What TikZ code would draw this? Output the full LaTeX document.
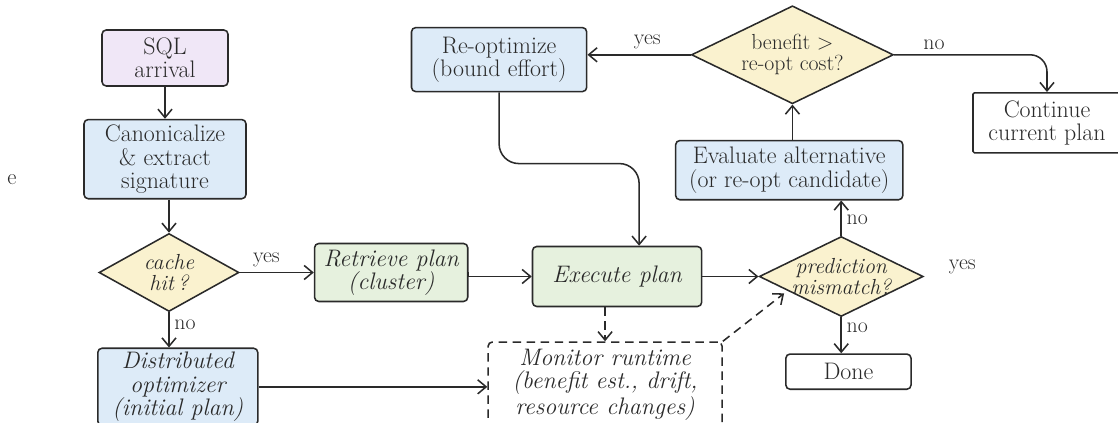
\documentclass[tikz,border=0pt]{standalone}
\usetikzlibrary{arrows.meta, positioning, shapes.geometric, calc}
\definecolor{flowink}{HTML}{2A2A2A}
\definecolor{flowlilac}{HTML}{F0E7F7}
\definecolor{flowblue}{HTML}{DDEBF8}
\definecolor{flowgreen}{HTML}{E6F1DE}
\definecolor{flowsand}{HTML}{FAF2CF}

\begin{document}
\begin{tikzpicture}[
    font=\fontsize{17}{16.5}\selectfont,
    ital/.style={font=\fontsize{17}{16.5}\selectfont\itshape},
    dtext/.style={font=\fontsize{15.5}{15}\selectfont, text=flowink, align=center},
    box/.style={draw=flowink, line width=1.1pt, rounded corners=3pt,
                align=center, inner sep=2pt, text=flowink},
    decision/.style={draw=flowink, line width=1.1pt, diamond, fill=flowsand,
                     inner sep=0pt},
    arr/.style={-{Straight Barb[length=6pt, width=10pt]}, flowink, line width=1.1pt},
    darr/.style={arr, dash pattern=on 6pt off 4pt},
    lbl/.style={font=\fontsize{15.5}{16}\selectfont, text=flowink},
  ]
    \useasboundingbox (0,0) rectangle (27.95,-10.575);

    \node[box, fill=flowlilac, minimum width=3.15cm, minimum height=1.4cm]
      (sql) at (4.125,-1.45) {SQL\\arrival};
    \node[box, fill=flowblue, minimum width=4.05cm, minimum height=1.98cm,
      below=0.8cm of sql] (canon) {Canonicalize\\\&\ extract\\signature};
    \node[decision, minimum width=3.5cm, minimum height=1.95cm,
      below=0.83cm of canon, xshift=0.1cm,
      label={[dtext, font=\fontsize{15.5}{15}\selectfont\itshape]center:cache\\hit\,?}] (cache) {};
    \node[box, ital, fill=flowblue, minimum width=4.0cm, minimum height=1.93cm,
      below=0.88cm of cache, xshift=0.22cm] (dist) {Distributed\\optimizer\\(initial plan)};
    \node[box, ital, fill=flowgreen, minimum width=3.83cm, minimum height=1.45cm,
      right=1.85cm of cache] (retr) {Retrieve plan\\(cluster)};
    \node[box, ital, fill=flowgreen, minimum width=4.23cm, minimum height=1.5cm,
      right=1.58cm of retr, yshift=-0.1cm] (exec) {Execute plan};
    \node[box, ital, dashed, dash pattern=on 6pt off 4pt, fill=white,
      minimum width=5.85cm, minimum height=2.13cm,
      below=0.85cm of exec, xshift=-0.3cm] (mon) {Monitor runtime\\(benefit est., drift,\\resource changes)};
    \node[decision, minimum width=4.1cm, minimum height=2.0cm,
      right=1.4cm of exec,
      label={[dtext, font=\fontsize{15.5}{15}\selectfont\itshape]center:prediction\\mismatch?}] (pred) {};
    \node[box, fill=white, minimum width=3.13cm, minimum height=0.88cm,
      below=0.9cm of pred, xshift=0.18cm] (done) {Done};
    \node[box, fill=flowblue, minimum width=5.68cm, minimum height=1.48cm,
      above=0.88cm of pred, xshift=-1.3cm] (eval) {Evaluate alternative\\(or re-opt candidate)};
    \node[decision, minimum width=5.05cm, minimum height=2.45cm,
      above=0.88cm of eval, xshift=0.08cm,
      label={[dtext]center:benefit >\\re-opt cost?}] (benefit) {};
    \node[box, fill=flowblue, minimum width=4.38cm, minimum height=1.6cm,
      left=2.58cm of benefit, yshift=-0.12cm] (reopt) {Re-optimize\\(bound effort)};
    \node[box, fill=white, rounded corners=1pt, minimum width=3.7cm, minimum height=1.5cm,
      right=1.95cm of benefit, yshift=-1.7cm] (cont) {Continue\\current plan};

    \node[lbl, right=0.5cm of pred, yshift=0.25cm] (predyes) {yes};
    \node[lbl, font=\fontsize{16}{16}\selectfont] (stray) at (0.3,-4.5) {e};

    \draw[arr] (sql) -- (canon);
    \draw[arr] (canon.south -| cache.north) -- (cache.north);
    \draw[arr] (cache) -- node[lbl, above, pos=0.36]{yes} (retr);
    \draw[arr] (cache.south) -- node[lbl, right, pos=0.35]{no} (cache.south |- dist.north);
    \draw[arr] (dist.east) -- (dist.east -| mon.west);
    \draw[arr] (retr.east) -- (retr.east |- exec.west) -- (exec.west);
    \draw[arr] (exec) -- (pred);
    \draw[darr] (mon.north |- exec.south) -- (mon.north);
    \draw[darr, shorten >=3pt] (mon.north east) -- ($(pred.west)!0.35!(pred.south)$);
    \draw[arr] (pred.north) -- node[lbl, right, pos=0.45]{no} (pred.north |- eval.south);
    \draw[arr] (pred.south) -- node[lbl, right, pos=0.3]{no} (pred.south |- done.north);
    \draw[arr] (benefit.south |- eval.north) -- (benefit.south);
    \draw[arr] (benefit.west) -- node[lbl, above, pos=0.42]{yes} (benefit.west -| reopt.east);
    \draw[arr, rounded corners=12pt] (benefit.east) -| node[lbl, above, pos=0.13]{no} (cont.north);
    \draw[arr, rounded corners=14pt] (reopt.south) -- ++(0,-1.78) -| ([xshift=0.55cm]exec.north);
  \end{tikzpicture}
\end{document}
